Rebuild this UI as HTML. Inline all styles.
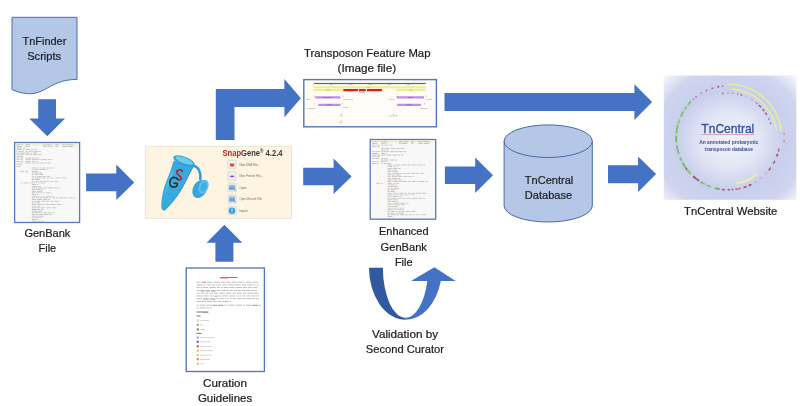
<!DOCTYPE html>
<html><head><meta charset="utf-8"><title>TnCentral workflow</title>
<style>html,body{margin:0;padding:0;background:#fff;width:800px;height:406px;overflow:hidden;font-family:"Liberation Sans",sans-serif}
text{font-family:"Liberation Sans",sans-serif}</style></head>
<body>
<svg width="800" height="406" viewBox="0 0 800 406" style="position:absolute;left:0;top:0;filter:blur(0.3px)" font-family="Liberation Sans, sans-serif">
<rect width="800" height="406" fill="#ffffff"/>
<path d="M12,17.3 L77,17.3 L77,79.4 C44.5,79.4 44.5,103.1 12,89.6 Z" fill="#b4c7e7" stroke="#4a6eb0" stroke-width="1"/>
<text x="44.4" y="45" font-size="11" fill="#1e1e1e" stroke="#1e1e1e" stroke-width="0.22" font-weight="normal" text-anchor="middle" textLength="43.8" lengthAdjust="spacingAndGlyphs">TnFinder</text>
<text x="44.2" y="60" font-size="11" fill="#1e1e1e" stroke="#1e1e1e" stroke-width="0.22" font-weight="normal" text-anchor="middle" textLength="34" lengthAdjust="spacingAndGlyphs">Scripts</text>
<polygon points="38.2,99.3 56,99.3 56,118.4 65,118.4 47.3,136.3 29.3,118.4 38.2,118.4" fill="#4472c4"/>
<rect x="14.6" y="142.5" width="65" height="80" fill="#f8f8f8" stroke="#5a79b8" stroke-width="1.3"/>
<g><rect x="15.8" y="143.79999999999998" width="62.7" height="2.2" fill="#f6f0d0"/>
<rect x="16.57" y="144.40" width="3.65" height="0.72" fill="#b6b6b6"/>
<rect x="21.38" y="144.40" width="1.47" height="0.72" fill="#b6b6b6"/>
<rect x="25.49" y="144.40" width="4.47" height="0.72" fill="#b6b6b6"/>
<rect x="43.33" y="144.40" width="2.83" height="0.72" fill="#b6b6b6"/>
<rect x="46.91" y="144.40" width="3.30" height="0.72" fill="#b6b6b6"/>
<rect x="51.43" y="144.40" width="0.82" height="0.72" fill="#b6b6b6"/>
<rect x="55.43" y="144.40" width="3.19" height="0.72" fill="#b6b6b6"/>
<rect x="62.44" y="144.40" width="2.35" height="0.72" fill="#b6b6b6"/>
<rect x="65.94" y="144.40" width="3.74" height="0.72" fill="#b6b6b6"/>
<rect x="70.36" y="144.40" width="2.56" height="0.72" fill="#b6b6b6"/>
<rect x="16.57" y="146.06" width="5.24" height="0.72" fill="#acacac"/>
<rect x="25.49" y="146.06" width="2.13" height="0.72" fill="#acacac"/>
<rect x="28.52" y="146.06" width="1.32" height="0.72" fill="#acacac"/>
<rect x="43.33" y="146.06" width="3.08" height="0.72" fill="#acacac"/>
<rect x="47.36" y="146.06" width="2.20" height="0.72" fill="#acacac"/>
<rect x="50.32" y="146.06" width="1.92" height="0.72" fill="#acacac"/>
<rect x="55.43" y="146.06" width="2.45" height="0.72" fill="#acacac"/>
<rect x="62.44" y="146.06" width="4.80" height="0.72" fill="#acacac"/>
<rect x="68.23" y="146.06" width="3.96" height="0.72" fill="#acacac"/>
<rect x="72.92" y="146.06" width="0.98" height="0.72" fill="#acacac"/>
<rect x="16.57" y="147.72" width="5.38" height="0.72" fill="#b2b2b2"/>
<rect x="22.91" y="147.72" width="2.18" height="0.72" fill="#b2b2b2"/>
<rect x="16.57" y="149.38" width="4.99" height="0.72" fill="#b0b0b0"/>
<rect x="22.76" y="149.38" width="1.15" height="0.72" fill="#b0b0b0"/>
<rect x="25.49" y="149.38" width="4.63" height="0.72" fill="#b0b0b0"/>
<rect x="31.01" y="149.38" width="1.94" height="0.72" fill="#b0b0b0"/>
<rect x="33.94" y="149.38" width="2.70" height="0.72" fill="#b0b0b0"/>
<rect x="16.57" y="151.04" width="1.66" height="0.72" fill="#bababa"/>
<rect x="18.95" y="151.04" width="4.81" height="0.72" fill="#bababa"/>
<rect x="25.49" y="151.04" width="2.53" height="0.72" fill="#bababa"/>
<rect x="29.21" y="151.04" width="3.84" height="0.72" fill="#bababa"/>
<rect x="34.06" y="151.04" width="3.98" height="0.72" fill="#bababa"/>
<rect x="38.76" y="151.04" width="2.18" height="0.72" fill="#bababa"/>
<rect x="16.57" y="152.70" width="2.20" height="0.72" fill="#b0b0b0"/>
<rect x="19.73" y="152.70" width="5.23" height="0.72" fill="#b0b0b0"/>
<rect x="25.49" y="152.70" width="3.56" height="0.72" fill="#b0b0b0"/>
<rect x="30.32" y="152.70" width="1.22" height="0.72" fill="#b0b0b0"/>
<rect x="32.69" y="152.70" width="4.54" height="0.72" fill="#b0b0b0"/>
<rect x="16.57" y="154.36" width="3.03" height="0.72" fill="#b6b6b6"/>
<rect x="20.25" y="154.36" width="3.57" height="0.72" fill="#b6b6b6"/>
<rect x="25.49" y="154.36" width="3.29" height="0.72" fill="#b6b6b6"/>
<rect x="29.63" y="154.36" width="2.69" height="0.72" fill="#b6b6b6"/>
<rect x="33.29" y="154.36" width="3.88" height="0.72" fill="#b6b6b6"/>
<rect x="38.20" y="154.36" width="3.17" height="0.72" fill="#b6b6b6"/>
<rect x="16.57" y="156.02" width="1.98" height="0.72" fill="#b0b0b0"/>
<rect x="19.22" y="156.02" width="3.57" height="0.72" fill="#b0b0b0"/>
<rect x="16.57" y="157.68" width="1.56" height="0.72" fill="#acacac"/>
<rect x="18.74" y="157.68" width="1.26" height="0.72" fill="#acacac"/>
<rect x="21.14" y="157.68" width="2.27" height="0.72" fill="#acacac"/>
<rect x="25.49" y="157.68" width="1.50" height="0.72" fill="#acacac"/>
<rect x="27.70" y="157.68" width="3.47" height="0.72" fill="#acacac"/>
<rect x="31.89" y="157.68" width="2.37" height="0.72" fill="#acacac"/>
<rect x="35.36" y="157.68" width="3.16" height="0.72" fill="#acacac"/>
<rect x="16.57" y="159.34" width="2.68" height="0.72" fill="#c2b6a2"/>
<rect x="20.41" y="159.34" width="2.31" height="0.72" fill="#c2b6a2"/>
<rect x="25.49" y="159.34" width="5.35" height="0.72" fill="#c2b6a2"/>
<rect x="31.75" y="159.34" width="5.39" height="0.72" fill="#c2b6a2"/>
<rect x="37.90" y="159.34" width="2.91" height="0.72" fill="#c2b6a2"/>
<rect x="41.43" y="159.34" width="5.33" height="0.72" fill="#c2b6a2"/>
<rect x="47.67" y="159.34" width="3.38" height="0.72" fill="#c2b6a2"/>
<rect x="51.95" y="159.34" width="1.05" height="0.72" fill="#c2b6a2"/>
<rect x="16.57" y="161.00" width="2.90" height="0.72" fill="#c2b6a2"/>
<rect x="20.48" y="161.00" width="2.58" height="0.72" fill="#c2b6a2"/>
<rect x="25.49" y="161.00" width="5.36" height="0.72" fill="#c2b6a2"/>
<rect x="32.07" y="161.00" width="2.52" height="0.72" fill="#c2b6a2"/>
<rect x="35.79" y="161.00" width="2.10" height="0.72" fill="#c2b6a2"/>
<rect x="16.57" y="162.66" width="1.24" height="0.72" fill="#b6b6b6"/>
<rect x="19.03" y="162.66" width="1.36" height="0.72" fill="#b6b6b6"/>
<rect x="21.56" y="162.66" width="1.07" height="0.72" fill="#b6b6b6"/>
<rect x="25.49" y="162.66" width="5.39" height="0.72" fill="#b6b6b6"/>
<rect x="31.97" y="162.66" width="3.39" height="0.72" fill="#b6b6b6"/>
<rect x="36.22" y="162.66" width="2.69" height="0.72" fill="#b6b6b6"/>
<rect x="39.66" y="162.66" width="4.10" height="0.72" fill="#b6b6b6"/>
<rect x="44.66" y="162.66" width="2.03" height="0.72" fill="#b6b6b6"/>
<rect x="47.37" y="162.66" width="3.20" height="0.72" fill="#b6b6b6"/>
<rect x="16.57" y="164.32" width="2.93" height="0.72" fill="#c2b6a2"/>
<rect x="20.30" y="164.32" width="1.87" height="0.72" fill="#c2b6a2"/>
<rect x="16.57" y="165.98" width="4.10" height="0.72" fill="#b6b6b6"/>
<rect x="31.86" y="167.64" width="4.50" height="0.72" fill="#bababa"/>
<rect x="37.34" y="167.64" width="1.48" height="0.72" fill="#bababa"/>
<rect x="39.45" y="167.64" width="1.77" height="0.72" fill="#bababa"/>
<rect x="41.93" y="167.64" width="3.51" height="0.72" fill="#bababa"/>
<rect x="46.24" y="167.64" width="2.63" height="0.72" fill="#bababa"/>
<rect x="49.82" y="167.64" width="2.30" height="0.72" fill="#bababa"/>
<rect x="52.95" y="167.64" width="1.09" height="0.72" fill="#bababa"/>
<rect x="31.86" y="169.30" width="1.37" height="0.72" fill="#c2b6a2"/>
<rect x="33.88" y="169.30" width="4.92" height="0.72" fill="#c2b6a2"/>
<rect x="39.96" y="169.30" width="4.76" height="0.72" fill="#c2b6a2"/>
<rect x="45.56" y="169.30" width="1.91" height="0.72" fill="#c2b6a2"/>
<rect x="20.40" y="170.96" width="3.63" height="0.72" fill="#b2b2b2"/>
<rect x="25.30" y="170.96" width="2.77" height="0.72" fill="#b2b2b2"/>
<rect x="31.86" y="170.96" width="5.06" height="0.72" fill="#b2b2b2"/>
<rect x="31.86" y="172.62" width="1.59" height="0.72" fill="#acacac"/>
<rect x="34.14" y="172.62" width="5.01" height="0.72" fill="#acacac"/>
<rect x="39.77" y="172.62" width="2.23" height="0.72" fill="#acacac"/>
<rect x="31.86" y="174.28" width="1.88" height="0.72" fill="#b2b2b2"/>
<rect x="34.94" y="174.28" width="3.07" height="0.72" fill="#b2b2b2"/>
<rect x="39.28" y="174.28" width="3.75" height="0.72" fill="#b2b2b2"/>
<rect x="31.86" y="175.94" width="2.09" height="0.72" fill="#b4b4b4"/>
<rect x="34.78" y="175.94" width="1.32" height="0.72" fill="#b4b4b4"/>
<rect x="37.24" y="175.94" width="5.18" height="0.72" fill="#b4b4b4"/>
<rect x="43.53" y="175.94" width="2.58" height="0.72" fill="#b4b4b4"/>
<rect x="46.98" y="175.94" width="2.91" height="0.72" fill="#b4b4b4"/>
<rect x="31.86" y="177.60" width="2.13" height="0.72" fill="#bababa"/>
<rect x="35.02" y="177.60" width="5.41" height="0.72" fill="#bababa"/>
<rect x="41.41" y="177.60" width="4.16" height="0.72" fill="#bababa"/>
<rect x="46.64" y="177.60" width="2.31" height="0.72" fill="#bababa"/>
<rect x="49.93" y="177.60" width="2.52" height="0.72" fill="#bababa"/>
<rect x="53.22" y="177.60" width="1.55" height="0.72" fill="#bababa"/>
<rect x="55.57" y="177.60" width="5.43" height="0.72" fill="#bababa"/>
<rect x="61.91" y="177.60" width="4.00" height="0.72" fill="#bababa"/>
<rect x="31.86" y="179.26" width="2.56" height="0.72" fill="#b0b0b0"/>
<rect x="35.62" y="179.26" width="4.26" height="0.72" fill="#b0b0b0"/>
<rect x="31.86" y="180.92" width="1.60" height="0.72" fill="#bababa"/>
<rect x="34.21" y="180.92" width="4.68" height="0.72" fill="#bababa"/>
<rect x="39.77" y="180.92" width="2.35" height="0.72" fill="#bababa"/>
<rect x="43.33" y="180.92" width="4.34" height="0.72" fill="#bababa"/>
<rect x="48.28" y="180.92" width="1.24" height="0.72" fill="#bababa"/>
<rect x="50.65" y="180.92" width="2.74" height="0.72" fill="#bababa"/>
<rect x="54.32" y="180.92" width="3.90" height="0.72" fill="#bababa"/>
<rect x="20.40" y="182.58" width="1.94" height="0.72" fill="#bababa"/>
<rect x="23.48" y="182.58" width="5.44" height="0.72" fill="#bababa"/>
<rect x="30.09" y="182.58" width="1.51" height="0.72" fill="#bababa"/>
<rect x="31.86" y="182.58" width="2.46" height="0.72" fill="#bababa"/>
<rect x="35.55" y="182.58" width="1.81" height="0.72" fill="#bababa"/>
<rect x="38.60" y="182.58" width="1.34" height="0.72" fill="#bababa"/>
<rect x="40.75" y="182.58" width="4.40" height="0.72" fill="#bababa"/>
<rect x="31.86" y="184.24" width="4.27" height="0.72" fill="#b0b0b0"/>
<rect x="37.20" y="184.24" width="1.16" height="0.72" fill="#b0b0b0"/>
<rect x="31.86" y="185.90" width="4.86" height="0.72" fill="#c2b6a2"/>
<rect x="37.64" y="185.90" width="2.90" height="0.72" fill="#c2b6a2"/>
<rect x="31.86" y="187.56" width="5.40" height="0.72" fill="#b4b4b4"/>
<rect x="37.87" y="187.56" width="4.17" height="0.72" fill="#b4b4b4"/>
<rect x="43.05" y="187.56" width="3.75" height="0.72" fill="#b4b4b4"/>
<rect x="47.50" y="187.56" width="5.43" height="0.72" fill="#b4b4b4"/>
<rect x="53.72" y="187.56" width="3.63" height="0.72" fill="#b4b4b4"/>
<rect x="58.07" y="187.56" width="1.58" height="0.72" fill="#b4b4b4"/>
<rect x="31.86" y="189.22" width="3.08" height="0.72" fill="#b6b6b6"/>
<rect x="36.03" y="189.22" width="4.35" height="0.72" fill="#b6b6b6"/>
<rect x="41.14" y="189.22" width="1.61" height="0.72" fill="#b6b6b6"/>
<rect x="31.86" y="190.88" width="4.33" height="0.72" fill="#b0b0b0"/>
<rect x="37.25" y="190.88" width="5.16" height="0.72" fill="#b0b0b0"/>
<rect x="31.86" y="192.54" width="3.40" height="0.72" fill="#b2b2b2"/>
<rect x="36.42" y="192.54" width="2.08" height="0.72" fill="#b2b2b2"/>
<rect x="39.30" y="192.54" width="2.49" height="0.72" fill="#b2b2b2"/>
<rect x="42.78" y="192.54" width="1.91" height="0.72" fill="#b2b2b2"/>
<rect x="45.78" y="192.54" width="3.20" height="0.72" fill="#b2b2b2"/>
<rect x="49.64" y="192.54" width="1.73" height="0.72" fill="#b2b2b2"/>
<rect x="31.86" y="194.20" width="3.65" height="0.72" fill="#b2b2b2"/>
<rect x="36.64" y="194.20" width="1.42" height="0.72" fill="#b2b2b2"/>
<rect x="31.86" y="195.86" width="5.48" height="0.72" fill="#bababa"/>
<rect x="38.30" y="195.86" width="1.59" height="0.72" fill="#bababa"/>
<rect x="40.67" y="195.86" width="1.63" height="0.72" fill="#bababa"/>
<rect x="43.42" y="195.86" width="1.56" height="0.72" fill="#bababa"/>
<rect x="46.26" y="195.86" width="5.37" height="0.72" fill="#bababa"/>
<rect x="52.66" y="195.86" width="1.53" height="0.72" fill="#bababa"/>
<rect x="31.86" y="197.52" width="2.84" height="0.72" fill="#b2b2b2"/>
<rect x="35.87" y="197.52" width="3.06" height="0.72" fill="#b2b2b2"/>
<rect x="39.64" y="197.52" width="2.60" height="0.72" fill="#b2b2b2"/>
<rect x="42.93" y="197.52" width="5.11" height="0.72" fill="#b2b2b2"/>
<rect x="49.31" y="197.52" width="1.71" height="0.72" fill="#b2b2b2"/>
<rect x="52.05" y="197.52" width="2.96" height="0.72" fill="#b2b2b2"/>
<rect x="55.68" y="197.52" width="2.47" height="0.72" fill="#b2b2b2"/>
<rect x="58.93" y="197.52" width="4.42" height="0.72" fill="#b2b2b2"/>
<rect x="63.95" y="197.52" width="2.02" height="0.72" fill="#b2b2b2"/>
<rect x="66.88" y="197.52" width="1.29" height="0.72" fill="#b2b2b2"/>
<rect x="69.21" y="197.52" width="3.80" height="0.72" fill="#b2b2b2"/>
<rect x="74.20" y="197.52" width="1.34" height="0.72" fill="#b2b2b2"/>
<rect x="31.86" y="199.18" width="4.14" height="0.72" fill="#b0b0b0"/>
<rect x="37.15" y="199.18" width="4.68" height="0.72" fill="#b0b0b0"/>
<rect x="43.11" y="199.18" width="3.55" height="0.72" fill="#b0b0b0"/>
<rect x="47.60" y="199.18" width="2.11" height="0.72" fill="#b0b0b0"/>
<rect x="31.86" y="200.84" width="1.30" height="0.72" fill="#b2b2b2"/>
<rect x="34.16" y="200.84" width="1.26" height="0.72" fill="#b2b2b2"/>
<rect x="36.23" y="200.84" width="4.10" height="0.72" fill="#b2b2b2"/>
<rect x="41.43" y="200.84" width="3.99" height="0.72" fill="#b2b2b2"/>
<rect x="46.08" y="200.84" width="2.81" height="0.72" fill="#b2b2b2"/>
<rect x="50.05" y="200.84" width="3.08" height="0.72" fill="#b2b2b2"/>
<rect x="54.20" y="200.84" width="4.46" height="0.72" fill="#b2b2b2"/>
<rect x="31.86" y="202.50" width="2.92" height="0.72" fill="#b2b2b2"/>
<rect x="35.93" y="202.50" width="3.75" height="0.72" fill="#b2b2b2"/>
<rect x="31.86" y="204.16" width="3.93" height="0.72" fill="#b2b2b2"/>
<rect x="36.90" y="204.16" width="4.38" height="0.72" fill="#b2b2b2"/>
<rect x="42.39" y="204.16" width="2.06" height="0.72" fill="#b2b2b2"/>
<rect x="45.69" y="204.16" width="3.78" height="0.72" fill="#b2b2b2"/>
<rect x="50.43" y="204.16" width="5.23" height="0.72" fill="#b2b2b2"/>
<rect x="56.76" y="204.16" width="4.32" height="0.72" fill="#b2b2b2"/>
<rect x="31.86" y="205.82" width="1.22" height="0.72" fill="#c2b6a2"/>
<rect x="33.95" y="205.82" width="3.03" height="0.72" fill="#c2b6a2"/>
<rect x="37.86" y="205.82" width="2.30" height="0.72" fill="#c2b6a2"/>
<rect x="31.86" y="207.48" width="3.99" height="0.72" fill="#b2b2b2"/>
<rect x="36.89" y="207.48" width="2.95" height="0.72" fill="#b2b2b2"/>
<rect x="40.88" y="207.48" width="3.93" height="0.72" fill="#b2b2b2"/>
<rect x="46.06" y="207.48" width="4.56" height="0.72" fill="#b2b2b2"/>
<rect x="51.82" y="207.48" width="3.84" height="0.72" fill="#b2b2b2"/>
<rect x="31.86" y="209.14" width="4.96" height="0.72" fill="#acacac"/>
<rect x="37.80" y="209.14" width="1.85" height="0.72" fill="#acacac"/>
<rect x="40.84" y="209.14" width="2.43" height="0.72" fill="#acacac"/>
<rect x="31.86" y="210.80" width="1.50" height="0.72" fill="#acacac"/>
<rect x="34.01" y="210.80" width="3.10" height="0.72" fill="#acacac"/>
<rect x="37.83" y="210.80" width="4.25" height="0.72" fill="#acacac"/>
<rect x="31.86" y="212.46" width="2.10" height="0.72" fill="#b2b2b2"/>
<rect x="34.71" y="212.46" width="5.01" height="0.72" fill="#b2b2b2"/>
<rect x="40.50" y="212.46" width="1.52" height="0.72" fill="#b2b2b2"/>
<rect x="43.21" y="212.46" width="3.45" height="0.72" fill="#b2b2b2"/>
<rect x="47.51" y="212.46" width="3.40" height="0.72" fill="#b2b2b2"/>
<rect x="52.03" y="212.46" width="1.92" height="0.72" fill="#b2b2b2"/>
<rect x="31.86" y="214.12" width="2.92" height="0.72" fill="#b4b4b4"/>
<rect x="35.72" y="214.12" width="2.32" height="0.72" fill="#b4b4b4"/>
<rect x="39.06" y="214.12" width="4.28" height="0.72" fill="#b4b4b4"/>
<rect x="44.12" y="214.12" width="3.82" height="0.72" fill="#b4b4b4"/>
<rect x="48.72" y="214.12" width="3.16" height="0.72" fill="#b4b4b4"/>
<rect x="31.86" y="215.78" width="4.58" height="0.72" fill="#b2b2b2"/>
<rect x="37.17" y="215.78" width="3.89" height="0.72" fill="#b2b2b2"/>
<rect x="41.78" y="215.78" width="1.97" height="0.72" fill="#b2b2b2"/>
<rect x="31.86" y="217.44" width="1.80" height="0.72" fill="#b6b6b6"/>
<rect x="34.35" y="217.44" width="4.28" height="0.72" fill="#b6b6b6"/>
<rect x="39.49" y="217.44" width="2.17" height="0.72" fill="#b6b6b6"/>
<rect x="31.86" y="219.10" width="2.91" height="0.72" fill="#b0b0b0"/>
<rect x="35.71" y="219.10" width="1.63" height="0.72" fill="#b0b0b0"/>
<rect x="31.86" y="220.76" width="4.14" height="0.72" fill="#acacac"/>
<rect x="36.95" y="220.76" width="3.47" height="0.72" fill="#acacac"/>
<rect x="41.53" y="220.76" width="2.14" height="0.72" fill="#acacac"/></g>
<text x="47.4" y="236.5" font-size="11" fill="#1e1e1e" stroke="#1e1e1e" stroke-width="0.22" font-weight="normal" text-anchor="middle" textLength="46" lengthAdjust="spacingAndGlyphs">GenBank</text>
<text x="47.4" y="252.2" font-size="11" fill="#1e1e1e" stroke="#1e1e1e" stroke-width="0.22" font-weight="normal" text-anchor="middle" textLength="17.6" lengthAdjust="spacingAndGlyphs">File</text>
<polygon points="86.1,173.5 116.3,173.5 116.3,164.5 134.2,182.5 116.3,200.1 116.3,191.3 86.1,191.3" fill="#4472c4"/>
<rect x="145.5" y="146.3" width="146" height="72" fill="#fdf5e2" stroke="#e6e0d0" stroke-width="0.8"/>

<g>
<path d="M192.5,165.5 C196,166 199,169 200,173 C200.8,176 200.5,178 200.2,180" fill="none" stroke="#2d9fd8" stroke-width="2.6"/>
<ellipse cx="199.8" cy="189" rx="6.8" ry="9.6" transform="rotate(28 199.8 189)" fill="#35a6dd"/>
<ellipse cx="203.6" cy="186.8" rx="4.6" ry="7.3" transform="rotate(22 203.6 186.8)" fill="#5cc2ee"/>
<ellipse cx="203.8" cy="186.8" rx="3" ry="5.2" transform="rotate(22 203.8 186.8)" fill="#3fb0e4"/>
<path d="M193.8,165.8 C189.5,173 186.5,180 183.5,185.5 C179.5,193 174,201 167.6,207.2 C165.5,209.5 164.3,210.3 163.3,210.2 C161.6,210 161.2,207.5 161.3,204 C161.5,196 163.5,188 166.9,179.8 C169,175 171.5,168 173.6,160.5 Z" fill="#37aae0"/>
<path d="M193.8,165.8 C189.5,173 186.5,180 183.5,185.5 C179.5,193 174,201 167.6,207.2 C165.5,209.5 164.3,210.3 163.3,210.2" fill="none" stroke="#1e86bf" stroke-width="1" opacity="0.8"/>
<path d="M172,170 C169,178 165.5,188 164,198 C167,190 170,181 174,172 Z" fill="#74d2f4" opacity="0.45"/>
<ellipse cx="184" cy="160.8" rx="11.4" ry="4.2" transform="rotate(21 184 160.8)" fill="#2a9bd5"/>
<ellipse cx="184.2" cy="160.5" rx="9.6" ry="2.9" transform="rotate(21 184.2 160.5)" fill="#6fcaf0"/>
<path d="M182.4,171.3 C181.5,169.5 178.5,169.2 177.2,171 C176,172.8 177.8,174.6 179.4,175.8 C181,177 181.8,178.4 180.5,179.6 C179.5,180.3 178.3,179.8 177.6,179.2" fill="none" stroke="#b51a26" stroke-width="1.6" stroke-linecap="round"/>
<path d="M177.6,179.3 C176.5,177.4 173.8,176.8 171.8,178.2 C169.8,179.6 169.4,183.2 170.2,185 C171,187 173.6,187.6 175.4,186.8 C177.2,186 177.6,184.4 177,183.4 L174,183.2" fill="none" stroke="#2a2a2a" stroke-width="1.6" stroke-linecap="round" stroke-linejoin="round"/>
</g>
<text x="222.5" y="155.8" font-size="9.2" font-weight="bold" textLength="60" lengthAdjust="spacingAndGlyphs"><tspan fill="#b8232b">Snap</tspan><tspan fill="#3c3c3c">Gene</tspan><tspan fill="#3c3c3c" font-size="5.5" dy="-2.4">®</tspan><tspan fill="#3c3c3c" dy="2.4"> 4.2.4</tspan></text>
<rect x="227.8" y="160.1" width="8.6" height="8.8" rx="1.2" fill="#e9e9e9" stroke="#d4d4d4" stroke-width="0.5"/>
<rect x="229.6" y="161.1" width="5" height="6.8" fill="#fafafa"/>
<rect x="230" y="162.9" width="4.2" height="1.2" fill="#f0b040"/>
<path d="M230,164.0 L234.2,164.0 L234.2,165.5 C234.2,167.1 230,167.1 230,165.5 Z" fill="#d4502c"/>
<text x="239.4" y="165.5" font-size="2.9" fill="#707070">New DNA File...</text>
<rect x="227.8" y="171.6" width="8.6" height="8.8" rx="1.2" fill="#e9e9e9" stroke="#d4d4d4" stroke-width="0.5"/>
<rect x="229.6" y="172.6" width="5" height="6.8" fill="#eef5ee"/>
<ellipse cx="232.1" cy="176.3" rx="2.3" ry="0.9" fill="#8a3fd0"/>
<text x="239.4" y="177" font-size="2.9" fill="#707070">New Protein File...</text>
<rect x="227.8" y="183.2" width="8.6" height="8.8" rx="1.2" fill="#e9e9e9" stroke="#d4d4d4" stroke-width="0.5"/>
<rect x="229.2" y="185.0" width="5.8" height="4.8" rx="0.5" fill="#8dbbe6"/>
<rect x="229.2" y="186.79999999999998" width="5.8" height="3" rx="0.5" fill="#6fa6dc"/>
<path d="M234.6,189.79999999999998 l1.2,0 l-0.6,1 z" fill="#333"/>
<text x="239.4" y="188.6" font-size="2.9" fill="#707070">Open</text>
<rect x="227.8" y="194.79999999999998" width="8.6" height="8.8" rx="1.2" fill="#e9e9e9" stroke="#d4d4d4" stroke-width="0.5"/>
<rect x="229.2" y="196.6" width="5.8" height="4.8" rx="0.5" fill="#8dbbe6"/>
<rect x="229.2" y="198.39999999999998" width="5.8" height="3" rx="0.5" fill="#6fa6dc"/>
<path d="M234.6,201.39999999999998 l1.2,0 l-0.6,1 z" fill="#333"/>
<text x="239.4" y="200.2" font-size="2.9" fill="#707070">Open Recent File</text>
<rect x="227.8" y="206.29999999999998" width="8.6" height="8.8" rx="1.2" fill="#e9e9e9" stroke="#d4d4d4" stroke-width="0.5"/>
<circle cx="232" cy="210.7" r="3.2" fill="#2ea0dc"/><rect x="231.55" y="208.6" width="0.9" height="2.8" fill="#fff"/><rect x="231.55" y="211.79999999999998" width="0.9" height="0.8" fill="#fff"/>
<text x="239.4" y="211.7" font-size="2.9" fill="#707070">Import</text>
<polygon points="215.8,140 215.8,89.1 284.4,89.1 284.4,78.9 300.9,98.2 284.4,117.3 284.4,107.1 234.5,107.1 234.5,140" fill="#4472c4"/>
<text x="367.2" y="57" font-size="11" fill="#1e1e1e" stroke="#1e1e1e" stroke-width="0.22" font-weight="normal" text-anchor="middle" textLength="126.5" lengthAdjust="spacingAndGlyphs">Transposon Feature Map</text>
<text x="366.8" y="72.4" font-size="11" fill="#1e1e1e" stroke="#1e1e1e" stroke-width="0.22" font-weight="normal" text-anchor="middle" textLength="58.5" lengthAdjust="spacingAndGlyphs">(Image file)</text>
<rect x="303.8" y="79.6" width="132.6" height="47.2" fill="#fefcf4" stroke="#5476b6" stroke-width="1.4"/>
<rect x="313.7" y="82.9" width="112" height="1.2" fill="#666"/>
<rect x="329.5" y="84.4" width="3.5" height="0.7" fill="#aaa"/>
<rect x="349.0" y="84.4" width="3.5" height="0.7" fill="#aaa"/>
<rect x="368.5" y="84.4" width="3.5" height="0.7" fill="#aaa"/>
<rect x="387.5" y="84.4" width="3.5" height="0.7" fill="#aaa"/>
<rect x="406.5" y="84.4" width="3.5" height="0.7" fill="#aaa"/>
<rect x="313.7" y="86.2" width="112" height="2.2" fill="#eeee8e"/>
<rect x="313.7" y="89" width="29" height="2.2" fill="#eeee8e"/>
<rect x="396.1" y="89" width="29.6" height="2.2" fill="#eeee8e"/>
<rect x="367" y="87" width="3" height="0.6" fill="#aaa"/><rect x="326" y="89.8" width="3.5" height="0.6" fill="#aaa"/><rect x="409" y="89.8" width="3.5" height="0.6" fill="#aaa"/>
<polygon points="343.3,88.9 357.6,88.9 358.3,90.05 357.6,91.2 343.3,91.2" fill="#e41818"/>
<polygon points="358.9,88.9 365.4,88.9 366.1,90.05 365.4,91.2 358.9,91.2" fill="#e41818"/>
<polygon points="367,88.9 381.6,88.9 382.3,90.05 381.6,91.2 367,91.2" fill="#e41818"/>
<rect x="359" y="92.2" width="6" height="0.6" fill="#999"/>
<polygon points="315.2,96.3 339.8,96.3 341,97.4 339.8,98.5 315.2,98.5" fill="#c08cf0"/>
<polygon points="318.3,103.7 339.8,103.7 341,104.8 339.8,105.9 318.3,105.9" fill="#c08cf0"/>
<polygon points="397.5,96.3 424,96.3 424,98.5 397.5,98.5 396.3,97.4" fill="#c08cf0"/>
<polygon points="397.8,103.7 421,103.7 421,105.9 397.8,105.9 396.6,104.8" fill="#c08cf0"/>
<rect x="322" y="97.1" width="10" height="0.6" fill="#8a5ab0"/>
<rect x="327" y="104.5" width="5" height="0.6" fill="#8a5ab0"/>
<rect x="408" y="97.1" width="5" height="0.6" fill="#8a5ab0"/>
<rect x="406" y="104.5" width="6" height="0.6" fill="#8a5ab0"/>
<rect x="306.5" y="99.4" width="4" height="0.6" fill="#b0b0b0"/>
<rect x="343" y="99.4" width="10" height="0.6" fill="#b0b0b0"/>
<rect x="388.5" y="99.4" width="6" height="0.6" fill="#b0b0b0"/>
<rect x="426" y="99.4" width="6" height="0.6" fill="#b0b0b0"/>
<rect x="307.5" y="108.2" width="8" height="0.6" fill="#b0b0b0"/>
<rect x="343" y="107.4" width="5" height="0.6" fill="#b0b0b0"/>
<rect x="419.5" y="108.2" width="8" height="0.6" fill="#b0b0b0"/>
<rect x="339.5" y="115.6" width="3" height="0.6" fill="#b0b0b0"/>
<rect x="388.5" y="115.6" width="9" height="0.6" fill="#b0b0b0"/>
<rect x="339" y="122.5" width="3" height="0.6" fill="#b0b0b0"/>
<rect x="313.8" y="95.5" width="0.5" height="1.6" fill="#999"/>
<rect x="342.6" y="95.5" width="0.5" height="1.6" fill="#999"/>
<rect x="396" y="95.5" width="0.5" height="1.6" fill="#999"/>
<rect x="425.8" y="95.5" width="0.5" height="1.6" fill="#999"/>
<rect x="313.8" y="103" width="0.5" height="1.6" fill="#999"/>
<rect x="342.6" y="103" width="0.5" height="1.6" fill="#999"/>
<rect x="424" y="103" width="0.5" height="1.6" fill="#999"/>
<rect x="341" y="113.5" width="0.5" height="1.6" fill="#999"/>
<rect x="393" y="113.5" width="0.5" height="1.6" fill="#999"/>
<rect x="341" y="120.5" width="0.5" height="1.6" fill="#999"/>
<polygon points="303.2,167.8 333.6,167.8 333.6,158.4 351.6,176.4 333.6,194 333.6,185.3 303.2,185.3" fill="#4472c4"/>
<rect x="370.2" y="139.5" width="65.5" height="79.7" fill="#f8f8f8" stroke="#5a79b8" stroke-width="1.3"/>
<g><rect x="371.4" y="140.79999999999998" width="63.10000000000002" height="2.2" fill="#f6f0d0"/>
<rect x="372.18" y="141.40" width="1.59" height="0.72" fill="#acacac"/>
<rect x="374.63" y="141.40" width="1.93" height="0.72" fill="#acacac"/>
<rect x="377.72" y="141.40" width="0.87" height="0.72" fill="#acacac"/>
<rect x="381.16" y="141.40" width="2.11" height="0.72" fill="#acacac"/>
<rect x="383.89" y="141.40" width="3.03" height="0.72" fill="#acacac"/>
<rect x="399.10" y="141.40" width="3.95" height="0.72" fill="#acacac"/>
<rect x="404.21" y="141.40" width="3.87" height="0.72" fill="#acacac"/>
<rect x="411.28" y="141.40" width="2.80" height="0.72" fill="#acacac"/>
<rect x="418.33" y="141.40" width="3.36" height="0.72" fill="#acacac"/>
<rect x="422.92" y="141.40" width="4.95" height="0.72" fill="#acacac"/>
<rect x="428.72" y="141.40" width="1.15" height="0.72" fill="#acacac"/>
<rect x="372.18" y="143.06" width="5.03" height="0.72" fill="#b2b2b2"/>
<rect x="381.16" y="143.06" width="3.61" height="0.72" fill="#b2b2b2"/>
<rect x="385.53" y="143.06" width="1.30" height="0.72" fill="#b2b2b2"/>
<rect x="399.10" y="143.06" width="1.79" height="0.72" fill="#b2b2b2"/>
<rect x="401.85" y="143.06" width="5.49" height="0.72" fill="#b2b2b2"/>
<rect x="411.28" y="143.06" width="1.98" height="0.72" fill="#b2b2b2"/>
<rect x="418.33" y="143.06" width="4.63" height="0.72" fill="#b2b2b2"/>
<rect x="424.07" y="143.06" width="5.10" height="0.72" fill="#b2b2b2"/>
<rect x="372.18" y="144.72" width="3.12" height="0.72" fill="#bababa"/>
<rect x="376.57" y="144.72" width="2.92" height="0.72" fill="#bababa"/>
<rect x="381.16" y="144.72" width="2.40" height="0.72" fill="#bababa"/>
<rect x="384.50" y="144.72" width="3.42" height="0.72" fill="#bababa"/>
<rect x="389.08" y="144.72" width="3.45" height="0.72" fill="#bababa"/>
<rect x="372.18" y="146.38" width="3.60" height="0.72" fill="#c2b6a2"/>
<rect x="376.70" y="146.38" width="3.40" height="0.72" fill="#c2b6a2"/>
<rect x="381.16" y="148.04" width="3.26" height="0.72" fill="#b6b6b6"/>
<rect x="385.23" y="148.04" width="4.64" height="0.72" fill="#b6b6b6"/>
<rect x="391.05" y="148.04" width="3.62" height="0.72" fill="#b6b6b6"/>
<rect x="395.62" y="148.04" width="3.85" height="0.72" fill="#b6b6b6"/>
<rect x="400.36" y="148.04" width="3.91" height="0.72" fill="#b6b6b6"/>
<rect x="381.16" y="149.70" width="4.73" height="0.72" fill="#bababa"/>
<rect x="386.99" y="149.70" width="1.62" height="0.72" fill="#bababa"/>
<rect x="372.18" y="151.36" width="2.37" height="0.72" fill="#b2b2b2"/>
<rect x="375.31" y="151.36" width="4.51" height="0.72" fill="#b2b2b2"/>
<rect x="381.16" y="151.36" width="2.25" height="0.72" fill="#b2b2b2"/>
<rect x="384.16" y="151.36" width="4.99" height="0.72" fill="#b2b2b2"/>
<rect x="390.04" y="151.36" width="4.28" height="0.72" fill="#b2b2b2"/>
<rect x="394.94" y="151.36" width="2.76" height="0.72" fill="#b2b2b2"/>
<rect x="398.42" y="151.36" width="4.09" height="0.72" fill="#b2b2b2"/>
<rect x="403.17" y="151.36" width="2.91" height="0.72" fill="#b2b2b2"/>
<rect x="372.18" y="153.02" width="5.22" height="0.72" fill="#acacac"/>
<rect x="381.16" y="153.02" width="3.73" height="0.72" fill="#acacac"/>
<rect x="386.05" y="153.02" width="0.92" height="0.72" fill="#acacac"/>
<rect x="372.18" y="154.68" width="4.39" height="0.72" fill="#acacac"/>
<rect x="377.25" y="154.68" width="2.42" height="0.72" fill="#acacac"/>
<rect x="381.16" y="154.68" width="4.38" height="0.72" fill="#acacac"/>
<rect x="386.77" y="154.68" width="4.45" height="0.72" fill="#acacac"/>
<rect x="392.42" y="154.68" width="4.23" height="0.72" fill="#acacac"/>
<rect x="397.59" y="154.68" width="2.17" height="0.72" fill="#acacac"/>
<rect x="400.82" y="154.68" width="2.56" height="0.72" fill="#acacac"/>
<rect x="372.18" y="156.34" width="3.43" height="0.72" fill="#c2b6a2"/>
<rect x="376.76" y="156.34" width="3.29" height="0.72" fill="#c2b6a2"/>
<rect x="372.18" y="158.00" width="3.00" height="0.72" fill="#bababa"/>
<rect x="375.80" y="158.00" width="3.60" height="0.72" fill="#bababa"/>
<rect x="381.16" y="158.00" width="1.89" height="0.72" fill="#bababa"/>
<rect x="383.72" y="158.00" width="3.93" height="0.72" fill="#bababa"/>
<rect x="381.16" y="159.66" width="2.28" height="0.72" fill="#acacac"/>
<rect x="384.45" y="159.66" width="3.88" height="0.72" fill="#acacac"/>
<rect x="389.49" y="159.66" width="4.25" height="0.72" fill="#acacac"/>
<rect x="394.52" y="159.66" width="2.38" height="0.72" fill="#acacac"/>
<rect x="372.18" y="161.32" width="1.89" height="0.72" fill="#acacac"/>
<rect x="375.03" y="161.32" width="1.58" height="0.72" fill="#acacac"/>
<rect x="377.28" y="161.32" width="1.29" height="0.72" fill="#acacac"/>
<rect x="381.16" y="161.32" width="4.08" height="0.72" fill="#acacac"/>
<rect x="386.15" y="161.32" width="1.32" height="0.72" fill="#acacac"/>
<rect x="372.18" y="162.98" width="3.40" height="0.72" fill="#b0b0b0"/>
<rect x="376.59" y="162.98" width="1.42" height="0.72" fill="#b0b0b0"/>
<rect x="381.16" y="162.98" width="1.60" height="0.72" fill="#b0b0b0"/>
<rect x="383.92" y="162.98" width="2.77" height="0.72" fill="#b0b0b0"/>
<rect x="387.66" y="162.98" width="3.33" height="0.72" fill="#b0b0b0"/>
<rect x="387.57" y="164.64" width="4.96" height="0.72" fill="#b4b4b4"/>
<rect x="393.41" y="164.64" width="1.65" height="0.72" fill="#b4b4b4"/>
<rect x="395.80" y="164.64" width="4.53" height="0.72" fill="#b4b4b4"/>
<rect x="401.52" y="164.64" width="4.69" height="0.72" fill="#b4b4b4"/>
<rect x="406.85" y="164.64" width="3.94" height="0.72" fill="#b4b4b4"/>
<rect x="411.72" y="164.64" width="5.03" height="0.72" fill="#b4b4b4"/>
<rect x="417.77" y="164.64" width="1.22" height="0.72" fill="#b4b4b4"/>
<rect x="419.61" y="164.64" width="2.52" height="0.72" fill="#b4b4b4"/>
<rect x="423.23" y="164.64" width="1.91" height="0.72" fill="#b4b4b4"/>
<rect x="387.57" y="166.30" width="4.44" height="0.72" fill="#b2b2b2"/>
<rect x="392.88" y="166.30" width="1.72" height="0.72" fill="#b2b2b2"/>
<rect x="395.29" y="166.30" width="1.55" height="0.72" fill="#b2b2b2"/>
<rect x="387.57" y="167.96" width="4.03" height="0.72" fill="#b2b2b2"/>
<rect x="392.74" y="167.96" width="4.31" height="0.72" fill="#b2b2b2"/>
<rect x="398.00" y="167.96" width="2.74" height="0.72" fill="#b2b2b2"/>
<rect x="387.57" y="169.62" width="5.31" height="0.72" fill="#bababa"/>
<rect x="394.03" y="169.62" width="2.95" height="0.72" fill="#bababa"/>
<rect x="387.57" y="171.28" width="3.56" height="0.72" fill="#b4b4b4"/>
<rect x="392.21" y="171.28" width="4.21" height="0.72" fill="#b4b4b4"/>
<rect x="397.08" y="171.28" width="0.97" height="0.72" fill="#b4b4b4"/>
<rect x="387.57" y="172.94" width="2.99" height="0.72" fill="#b2b2b2"/>
<rect x="391.20" y="172.94" width="1.57" height="0.72" fill="#b2b2b2"/>
<rect x="394.00" y="172.94" width="5.45" height="0.72" fill="#b2b2b2"/>
<rect x="400.51" y="172.94" width="1.75" height="0.72" fill="#b2b2b2"/>
<rect x="403.07" y="172.94" width="2.20" height="0.72" fill="#b2b2b2"/>
<rect x="406.33" y="172.94" width="4.13" height="0.72" fill="#b2b2b2"/>
<rect x="411.37" y="172.94" width="3.45" height="0.72" fill="#b2b2b2"/>
<rect x="415.50" y="172.94" width="3.53" height="0.72" fill="#b2b2b2"/>
<rect x="420.29" y="172.94" width="3.30" height="0.72" fill="#b2b2b2"/>
<rect x="387.57" y="174.60" width="3.18" height="0.72" fill="#b0b0b0"/>
<rect x="391.84" y="174.60" width="2.94" height="0.72" fill="#b0b0b0"/>
<rect x="396.07" y="174.60" width="4.57" height="0.72" fill="#b0b0b0"/>
<rect x="387.57" y="176.26" width="2.85" height="0.72" fill="#b6b6b6"/>
<rect x="391.53" y="176.26" width="2.89" height="0.72" fill="#b6b6b6"/>
<rect x="395.06" y="176.26" width="2.38" height="0.72" fill="#b6b6b6"/>
<rect x="398.21" y="176.26" width="4.34" height="0.72" fill="#b6b6b6"/>
<rect x="403.44" y="176.26" width="3.99" height="0.72" fill="#b6b6b6"/>
<rect x="408.28" y="176.26" width="3.55" height="0.72" fill="#b6b6b6"/>
<rect x="412.94" y="176.26" width="1.19" height="0.72" fill="#b6b6b6"/>
<rect x="387.57" y="177.92" width="2.84" height="0.72" fill="#b0b0b0"/>
<rect x="391.63" y="177.92" width="5.13" height="0.72" fill="#b0b0b0"/>
<rect x="397.58" y="177.92" width="2.44" height="0.72" fill="#b0b0b0"/>
<rect x="387.57" y="179.58" width="5.26" height="0.72" fill="#c2b6a2"/>
<rect x="393.93" y="179.58" width="3.81" height="0.72" fill="#c2b6a2"/>
<rect x="398.97" y="179.58" width="2.96" height="0.72" fill="#c2b6a2"/>
<rect x="387.57" y="181.24" width="3.31" height="0.72" fill="#b0b0b0"/>
<rect x="391.90" y="181.24" width="1.24" height="0.72" fill="#b0b0b0"/>
<rect x="394.21" y="181.24" width="3.27" height="0.72" fill="#b0b0b0"/>
<rect x="398.44" y="181.24" width="1.95" height="0.72" fill="#b0b0b0"/>
<rect x="401.49" y="181.24" width="5.38" height="0.72" fill="#b0b0b0"/>
<rect x="408.00" y="181.24" width="2.71" height="0.72" fill="#b0b0b0"/>
<rect x="411.94" y="181.24" width="3.49" height="0.72" fill="#b0b0b0"/>
<rect x="416.50" y="181.24" width="1.48" height="0.72" fill="#b0b0b0"/>
<rect x="419.00" y="181.24" width="5.18" height="0.72" fill="#b0b0b0"/>
<rect x="425.42" y="181.24" width="2.34" height="0.72" fill="#b0b0b0"/>
<rect x="376.03" y="182.90" width="4.44" height="0.72" fill="#c2b6a2"/>
<rect x="381.19" y="182.90" width="1.66" height="0.72" fill="#c2b6a2"/>
<rect x="387.57" y="182.90" width="4.59" height="0.72" fill="#c2b6a2"/>
<rect x="393.36" y="182.90" width="1.78" height="0.72" fill="#c2b6a2"/>
<rect x="395.85" y="182.90" width="2.84" height="0.72" fill="#c2b6a2"/>
<rect x="387.57" y="184.56" width="1.21" height="0.72" fill="#b4b4b4"/>
<rect x="389.40" y="184.56" width="4.86" height="0.72" fill="#b4b4b4"/>
<rect x="395.25" y="184.56" width="1.64" height="0.72" fill="#b4b4b4"/>
<rect x="387.57" y="186.22" width="5.13" height="0.72" fill="#c2b6a2"/>
<rect x="393.35" y="186.22" width="4.17" height="0.72" fill="#c2b6a2"/>
<rect x="387.57" y="187.88" width="1.60" height="0.72" fill="#b4b4b4"/>
<rect x="390.21" y="187.88" width="2.88" height="0.72" fill="#b4b4b4"/>
<rect x="394.06" y="187.88" width="4.86" height="0.72" fill="#b4b4b4"/>
<rect x="387.57" y="189.54" width="2.20" height="0.72" fill="#b2b2b2"/>
<rect x="390.56" y="189.54" width="5.32" height="0.72" fill="#b2b2b2"/>
<rect x="387.57" y="191.20" width="2.64" height="0.72" fill="#b2b2b2"/>
<rect x="391.06" y="191.20" width="3.34" height="0.72" fill="#b2b2b2"/>
<rect x="387.57" y="192.86" width="3.95" height="0.72" fill="#c2b6a2"/>
<rect x="392.77" y="192.86" width="2.60" height="0.72" fill="#c2b6a2"/>
<rect x="396.04" y="192.86" width="2.22" height="0.72" fill="#c2b6a2"/>
<rect x="398.99" y="192.86" width="4.12" height="0.72" fill="#c2b6a2"/>
<rect x="403.97" y="192.86" width="2.73" height="0.72" fill="#c2b6a2"/>
<rect x="407.86" y="192.86" width="2.20" height="0.72" fill="#c2b6a2"/>
<rect x="411.23" y="192.86" width="3.92" height="0.72" fill="#c2b6a2"/>
<rect x="416.03" y="192.86" width="4.74" height="0.72" fill="#c2b6a2"/>
<rect x="421.61" y="192.86" width="4.82" height="0.72" fill="#c2b6a2"/>
<rect x="387.57" y="194.52" width="5.22" height="0.72" fill="#bababa"/>
<rect x="393.92" y="194.52" width="5.41" height="0.72" fill="#bababa"/>
<rect x="400.13" y="194.52" width="3.88" height="0.72" fill="#bababa"/>
<rect x="405.08" y="194.52" width="2.78" height="0.72" fill="#bababa"/>
<rect x="408.73" y="194.52" width="1.95" height="0.72" fill="#bababa"/>
<rect x="411.96" y="194.52" width="2.72" height="0.72" fill="#bababa"/>
<rect x="387.57" y="196.18" width="1.65" height="0.72" fill="#b6b6b6"/>
<rect x="389.93" y="196.18" width="1.53" height="0.72" fill="#b6b6b6"/>
<rect x="392.68" y="196.18" width="4.35" height="0.72" fill="#b6b6b6"/>
<rect x="398.08" y="196.18" width="1.24" height="0.72" fill="#b6b6b6"/>
<rect x="400.14" y="196.18" width="1.24" height="0.72" fill="#b6b6b6"/>
<rect x="387.57" y="197.84" width="2.07" height="0.72" fill="#b4b4b4"/>
<rect x="390.58" y="197.84" width="5.37" height="0.72" fill="#b4b4b4"/>
<rect x="397.11" y="197.84" width="2.62" height="0.72" fill="#b4b4b4"/>
<rect x="400.43" y="197.84" width="2.75" height="0.72" fill="#b4b4b4"/>
<rect x="403.84" y="197.84" width="2.01" height="0.72" fill="#b4b4b4"/>
<rect x="406.94" y="197.84" width="4.33" height="0.72" fill="#b4b4b4"/>
<rect x="411.91" y="197.84" width="5.24" height="0.72" fill="#b4b4b4"/>
<rect x="418.20" y="197.84" width="3.83" height="0.72" fill="#b4b4b4"/>
<rect x="423.24" y="197.84" width="1.96" height="0.72" fill="#b4b4b4"/>
<rect x="387.57" y="199.50" width="4.84" height="0.72" fill="#c2b6a2"/>
<rect x="393.24" y="199.50" width="4.15" height="0.72" fill="#c2b6a2"/>
<rect x="387.57" y="201.16" width="3.31" height="0.72" fill="#b2b2b2"/>
<rect x="392.08" y="201.16" width="3.54" height="0.72" fill="#b2b2b2"/>
<rect x="396.66" y="201.16" width="1.59" height="0.72" fill="#b2b2b2"/>
<rect x="387.57" y="202.82" width="2.97" height="0.72" fill="#c2b6a2"/>
<rect x="391.50" y="202.82" width="1.40" height="0.72" fill="#c2b6a2"/>
<rect x="393.58" y="202.82" width="5.48" height="0.72" fill="#c2b6a2"/>
<rect x="399.75" y="202.82" width="5.23" height="0.72" fill="#c2b6a2"/>
<rect x="406.05" y="202.82" width="2.61" height="0.72" fill="#c2b6a2"/>
<rect x="387.57" y="204.48" width="4.08" height="0.72" fill="#b4b4b4"/>
<rect x="392.40" y="204.48" width="1.31" height="0.72" fill="#b4b4b4"/>
<rect x="394.60" y="204.48" width="5.43" height="0.72" fill="#b4b4b4"/>
<rect x="400.87" y="204.48" width="4.69" height="0.72" fill="#b4b4b4"/>
<rect x="387.57" y="206.14" width="1.80" height="0.72" fill="#c2b6a2"/>
<rect x="390.31" y="206.14" width="1.46" height="0.72" fill="#c2b6a2"/>
<rect x="392.51" y="206.14" width="5.15" height="0.72" fill="#c2b6a2"/>
<rect x="387.57" y="207.80" width="3.32" height="0.72" fill="#bababa"/>
<rect x="391.57" y="207.80" width="1.70" height="0.72" fill="#bababa"/>
<rect x="393.95" y="207.80" width="2.11" height="0.72" fill="#bababa"/>
<rect x="396.70" y="207.80" width="2.13" height="0.72" fill="#bababa"/>
<rect x="399.69" y="207.80" width="3.88" height="0.72" fill="#bababa"/>
<rect x="387.57" y="209.46" width="5.32" height="0.72" fill="#b6b6b6"/>
<rect x="393.60" y="209.46" width="2.07" height="0.72" fill="#b6b6b6"/>
<rect x="396.51" y="209.46" width="1.82" height="0.72" fill="#b6b6b6"/>
<rect x="399.02" y="209.46" width="2.55" height="0.72" fill="#b6b6b6"/>
<rect x="402.38" y="209.46" width="1.62" height="0.72" fill="#b6b6b6"/>
<rect x="387.57" y="211.12" width="2.19" height="0.72" fill="#b4b4b4"/>
<rect x="390.84" y="211.12" width="4.21" height="0.72" fill="#b4b4b4"/>
<rect x="396.11" y="211.12" width="1.33" height="0.72" fill="#b4b4b4"/>
<rect x="398.43" y="211.12" width="2.07" height="0.72" fill="#b4b4b4"/>
<rect x="401.23" y="211.12" width="3.69" height="0.72" fill="#b4b4b4"/>
<rect x="405.98" y="211.12" width="3.89" height="0.72" fill="#b4b4b4"/>
<rect x="410.99" y="211.12" width="4.22" height="0.72" fill="#b4b4b4"/>
<rect x="387.57" y="212.78" width="1.82" height="0.72" fill="#acacac"/>
<rect x="390.21" y="212.78" width="4.16" height="0.72" fill="#acacac"/>
<rect x="395.67" y="212.78" width="1.80" height="0.72" fill="#acacac"/>
<rect x="398.56" y="212.78" width="5.14" height="0.72" fill="#acacac"/>
<rect x="387.57" y="214.44" width="2.45" height="0.72" fill="#b2b2b2"/>
<rect x="390.77" y="214.44" width="4.74" height="0.72" fill="#b2b2b2"/>
<rect x="396.60" y="214.44" width="2.39" height="0.72" fill="#b2b2b2"/>
<rect x="400.23" y="214.44" width="3.65" height="0.72" fill="#b2b2b2"/>
<rect x="404.76" y="214.44" width="2.99" height="0.72" fill="#b2b2b2"/>
<rect x="408.85" y="214.44" width="3.16" height="0.72" fill="#b2b2b2"/>
<rect x="413.07" y="214.44" width="1.72" height="0.72" fill="#b2b2b2"/>
<rect x="415.89" y="214.44" width="2.37" height="0.72" fill="#b2b2b2"/>
<rect x="419.50" y="214.44" width="2.12" height="0.72" fill="#b2b2b2"/>
<rect x="422.45" y="214.44" width="3.51" height="0.72" fill="#b2b2b2"/>
<rect x="387.57" y="216.10" width="4.96" height="0.72" fill="#b0b0b0"/></g>
<text x="403.75" y="235" font-size="11" fill="#1e1e1e" stroke="#1e1e1e" stroke-width="0.22" font-weight="normal" text-anchor="middle" textLength="49.5" lengthAdjust="spacingAndGlyphs">Enhanced</text>
<text x="403.75" y="250.5" font-size="11" fill="#1e1e1e" stroke="#1e1e1e" stroke-width="0.22" font-weight="normal" text-anchor="middle" textLength="46.3" lengthAdjust="spacingAndGlyphs">GenBank</text>
<text x="403.75" y="265.5" font-size="11" fill="#1e1e1e" stroke="#1e1e1e" stroke-width="0.22" font-weight="normal" text-anchor="middle" textLength="17.6" lengthAdjust="spacingAndGlyphs">File</text>
<path d="M369,267.7 A36.5,52 0 0 0 405.5,319.7 L405.5,317.8 A22.6,50.1 0 0 1 382.9,267.7 Z" fill="#31599f"/>
<path d="M405.5,317.8 A22.6,50.1 0 0 0 427.3,281.1 L440.8,281.1 A36.5,52 0 0 1 405.5,319.7 Z" fill="#4472c4"/>
<polygon points="411,281.1 434.4,267.3 455.7,281.1" fill="#4472c4"/>
<text x="405" y="337.6" font-size="11" fill="#1e1e1e" stroke="#1e1e1e" stroke-width="0.22" font-weight="normal" text-anchor="middle" textLength="66" lengthAdjust="spacingAndGlyphs">Validation by</text>
<text x="404.9" y="352.7" font-size="11" fill="#1e1e1e" stroke="#1e1e1e" stroke-width="0.22" font-weight="normal" text-anchor="middle" textLength="78.3" lengthAdjust="spacingAndGlyphs">Second Curator</text>
<polygon points="224.4,224.8 242.3,242.7 233.4,242.7 233.4,261.8 215.4,261.8 215.4,242.7 206.6,242.7" fill="#4472c4"/>
<rect x="186.2" y="268" width="78.2" height="103.5" fill="#ffffff" stroke="#5776b4" stroke-width="1.35"/>
<rect x="220.2" y="276.9" width="17.5" height="1.1" fill="#8a8a8a"/>
<rect x="220.2" y="278.3" width="8" height="0.4" fill="#d44"/>
<rect x="196.50" y="281.75" width="4.22" height="0.8" fill="#acacac"/>
<rect x="201.72" y="281.75" width="4.63" height="0.8" fill="#acacac"/>
<rect x="201.72" y="282.65" width="4.63" height="0.35" fill="#e04848"/>
<rect x="207.06" y="281.75" width="5.69" height="0.8" fill="#acacac"/>
<rect x="213.56" y="281.75" width="6.48" height="0.8" fill="#acacac"/>
<rect x="221.16" y="281.75" width="3.88" height="0.8" fill="#acacac"/>
<rect x="225.82" y="281.75" width="4.67" height="0.8" fill="#acacac"/>
<rect x="231.45" y="281.75" width="5.21" height="0.8" fill="#acacac"/>
<rect x="237.39" y="281.75" width="5.29" height="0.8" fill="#acacac"/>
<rect x="243.53" y="281.75" width="1.66" height="0.8" fill="#acacac"/>
<rect x="246.12" y="281.75" width="5.09" height="0.8" fill="#acacac"/>
<rect x="252.27" y="281.75" width="6.11" height="0.8" fill="#acacac"/>
<rect x="196.50" y="284.55" width="6.18" height="0.8" fill="#acacac"/>
<rect x="203.43" y="284.55" width="2.18" height="0.8" fill="#acacac"/>
<rect x="206.79" y="284.55" width="3.68" height="0.8" fill="#acacac"/>
<rect x="211.32" y="284.55" width="4.04" height="0.8" fill="#acacac"/>
<rect x="216.23" y="284.55" width="4.43" height="0.8" fill="#acacac"/>
<rect x="221.81" y="284.55" width="4.91" height="0.8" fill="#acacac"/>
<rect x="227.85" y="284.55" width="6.45" height="0.8" fill="#acacac"/>
<rect x="235.08" y="284.55" width="5.80" height="0.8" fill="#acacac"/>
<rect x="242.04" y="284.55" width="4.35" height="0.8" fill="#acacac"/>
<rect x="247.19" y="284.55" width="5.66" height="0.8" fill="#acacac"/>
<rect x="253.69" y="284.55" width="1.82" height="0.8" fill="#acacac"/>
<rect x="256.70" y="284.55" width="1.94" height="0.8" fill="#acacac"/>
<rect x="196.50" y="287.25" width="2.97" height="0.8" fill="#acacac"/>
<rect x="200.61" y="287.25" width="1.72" height="0.8" fill="#acacac"/>
<rect x="203.05" y="287.25" width="5.09" height="0.8" fill="#acacac"/>
<rect x="209.28" y="287.25" width="6.40" height="0.8" fill="#acacac"/>
<rect x="216.88" y="287.25" width="3.05" height="0.8" fill="#acacac"/>
<rect x="220.93" y="287.25" width="1.66" height="0.8" fill="#acacac"/>
<rect x="223.49" y="287.25" width="4.55" height="0.8" fill="#acacac"/>
<rect x="228.77" y="287.25" width="5.84" height="0.8" fill="#acacac"/>
<rect x="235.79" y="287.25" width="5.98" height="0.8" fill="#acacac"/>
<rect x="242.70" y="287.25" width="4.10" height="0.8" fill="#acacac"/>
<rect x="247.80" y="287.25" width="4.30" height="0.8" fill="#acacac"/>
<rect x="253.26" y="287.25" width="4.04" height="0.8" fill="#acacac"/>
<rect x="196.50" y="290.05" width="3.01" height="0.8" fill="#acacac"/>
<rect x="200.47" y="290.05" width="4.24" height="0.8" fill="#acacac"/>
<rect x="200.47" y="290.95" width="4.24" height="0.35" fill="#e04848"/>
<rect x="205.62" y="290.05" width="4.40" height="0.8" fill="#acacac"/>
<rect x="205.62" y="290.95" width="4.40" height="0.35" fill="#e04848"/>
<rect x="211.02" y="290.05" width="4.66" height="0.8" fill="#acacac"/>
<rect x="211.02" y="290.95" width="4.66" height="0.35" fill="#e04848"/>
<rect x="216.70" y="290.05" width="3.83" height="0.8" fill="#acacac"/>
<rect x="221.41" y="290.05" width="5.03" height="0.8" fill="#acacac"/>
<rect x="227.15" y="290.05" width="1.80" height="0.8" fill="#acacac"/>
<rect x="230.14" y="290.05" width="2.76" height="0.8" fill="#acacac"/>
<rect x="233.89" y="290.05" width="3.10" height="0.8" fill="#acacac"/>
<rect x="237.84" y="290.05" width="3.35" height="0.8" fill="#acacac"/>
<rect x="242.04" y="290.05" width="3.39" height="0.8" fill="#acacac"/>
<rect x="246.14" y="290.05" width="4.35" height="0.8" fill="#acacac"/>
<rect x="251.34" y="290.05" width="2.61" height="0.8" fill="#acacac"/>
<rect x="254.77" y="290.05" width="2.44" height="0.8" fill="#acacac"/>
<rect x="196.50" y="292.75" width="3.11" height="0.8" fill="#acacac"/>
<rect x="200.73" y="292.75" width="3.69" height="0.8" fill="#acacac"/>
<rect x="205.20" y="292.75" width="3.18" height="0.8" fill="#acacac"/>
<rect x="209.53" y="292.75" width="3.76" height="0.8" fill="#acacac"/>
<rect x="214.05" y="292.75" width="4.15" height="0.8" fill="#acacac"/>
<rect x="219.30" y="292.75" width="5.69" height="0.8" fill="#acacac"/>
<rect x="225.83" y="292.75" width="5.54" height="0.8" fill="#acacac"/>
<rect x="232.47" y="292.75" width="3.23" height="0.8" fill="#acacac"/>
<rect x="236.54" y="292.75" width="5.47" height="0.8" fill="#acacac"/>
<rect x="242.88" y="292.75" width="3.58" height="0.8" fill="#acacac"/>
<rect x="247.37" y="292.75" width="6.10" height="0.8" fill="#acacac"/>
<rect x="254.18" y="292.75" width="4.18" height="0.8" fill="#acacac"/>
<rect x="196.50" y="295.55" width="6.25" height="0.8" fill="#acacac"/>
<rect x="203.56" y="295.55" width="5.23" height="0.8" fill="#acacac"/>
<rect x="209.82" y="295.55" width="4.10" height="0.8" fill="#acacac"/>
<rect x="214.79" y="295.55" width="2.64" height="0.8" fill="#acacac"/>
<rect x="214.79" y="296.45" width="2.64" height="0.35" fill="#e04848"/>
<rect x="218.42" y="295.55" width="2.94" height="0.8" fill="#acacac"/>
<rect x="222.08" y="295.55" width="6.02" height="0.8" fill="#acacac"/>
<rect x="229.26" y="295.55" width="5.98" height="0.8" fill="#acacac"/>
<rect x="236.23" y="295.55" width="1.57" height="0.8" fill="#acacac"/>
<rect x="238.58" y="295.55" width="3.00" height="0.8" fill="#acacac"/>
<rect x="242.54" y="295.55" width="3.57" height="0.8" fill="#acacac"/>
<rect x="247.12" y="295.55" width="3.21" height="0.8" fill="#acacac"/>
<rect x="251.45" y="295.55" width="3.89" height="0.8" fill="#acacac"/>
<rect x="256.22" y="295.55" width="2.49" height="0.8" fill="#acacac"/>
<rect x="196.50" y="298.35" width="5.46" height="0.8" fill="#acacac"/>
<rect x="203.06" y="298.35" width="5.62" height="0.8" fill="#acacac"/>
<rect x="203.06" y="299.25" width="5.62" height="0.35" fill="#e04848"/>
<rect x="209.69" y="298.35" width="5.81" height="0.8" fill="#acacac"/>
<rect x="209.69" y="299.25" width="5.81" height="0.35" fill="#e04848"/>
<rect x="216.34" y="298.35" width="2.84" height="0.8" fill="#acacac"/>
<rect x="220.10" y="298.35" width="3.86" height="0.8" fill="#acacac"/>
<rect x="224.66" y="298.35" width="1.77" height="0.8" fill="#acacac"/>
<rect x="227.20" y="298.35" width="1.84" height="0.8" fill="#acacac"/>
<rect x="230.17" y="298.35" width="1.93" height="0.8" fill="#acacac"/>
<rect x="232.96" y="298.35" width="3.07" height="0.8" fill="#acacac"/>
<rect x="237.05" y="298.35" width="4.43" height="0.8" fill="#acacac"/>
<rect x="242.28" y="298.35" width="3.14" height="0.8" fill="#acacac"/>
<rect x="246.40" y="298.35" width="5.08" height="0.8" fill="#acacac"/>
<rect x="252.22" y="298.35" width="2.39" height="0.8" fill="#acacac"/>
<rect x="255.62" y="298.35" width="2.98" height="0.8" fill="#acacac"/>
<rect x="196.50" y="301.05" width="4.61" height="0.8" fill="#acacac"/>
<rect x="202.00" y="301.05" width="3.98" height="0.8" fill="#acacac"/>
<rect x="206.89" y="301.05" width="4.97" height="0.8" fill="#acacac"/>
<rect x="212.69" y="301.05" width="4.18" height="0.8" fill="#acacac"/>
<rect x="217.60" y="301.05" width="3.62" height="0.8" fill="#acacac"/>
<rect x="222.36" y="301.05" width="6.18" height="0.8" fill="#acacac"/>
<rect x="229.70" y="301.05" width="1.30" height="0.8" fill="#acacac"/>
<rect x="196.50" y="304.75" width="2.12" height="0.8" fill="#acacac"/>
<rect x="199.65" y="304.75" width="5.94" height="0.8" fill="#acacac"/>
<rect x="206.62" y="304.75" width="5.17" height="0.8" fill="#acacac"/>
<rect x="212.54" y="304.75" width="4.44" height="0.8" fill="#acacac"/>
<rect x="212.54" y="305.65" width="4.44" height="0.35" fill="#e04848"/>
<rect x="217.75" y="304.75" width="5.37" height="0.8" fill="#acacac"/>
<rect x="217.75" y="305.65" width="5.37" height="0.35" fill="#e04848"/>
<rect x="223.87" y="304.75" width="2.00" height="0.8" fill="#acacac"/>
<rect x="226.65" y="304.75" width="1.62" height="0.8" fill="#acacac"/>
<rect x="229.03" y="304.75" width="5.72" height="0.8" fill="#acacac"/>
<rect x="235.87" y="304.75" width="6.26" height="0.8" fill="#acacac"/>
<rect x="243.23" y="304.75" width="1.68" height="0.8" fill="#acacac"/>
<rect x="245.87" y="304.75" width="5.08" height="0.8" fill="#acacac"/>
<rect x="252.02" y="304.75" width="6.17" height="0.8" fill="#acacac"/>
<rect x="252.02" y="305.65" width="6.17" height="0.35" fill="#e04848"/>
<rect x="259.05" y="304.75" width="1.95" height="0.8" fill="#acacac"/>
<rect x="196.50" y="307.55" width="2.40" height="0.8" fill="#acacac"/>
<rect x="199.91" y="307.55" width="5.27" height="0.8" fill="#acacac"/>
<rect x="206.06" y="307.55" width="3.48" height="0.8" fill="#acacac"/>
<rect x="210.45" y="307.55" width="1.55" height="0.8" fill="#acacac"/>
<rect x="196.5" y="311.5" width="12" height="1" fill="#777"/>
<rect x="203" y="312.7" width="5" height="0.4" fill="#d44"/>
<rect x="196.5" y="315.5" width="4" height="1" fill="#777"/>
<rect x="196.5" y="332.9" width="5" height="1" fill="#777"/>
<rect x="196.7" y="319.4" width="2.2" height="2" fill="#c8d878" opacity="0.85"/>
<rect x="200" y="320.2" width="9" height="0.7" fill="#c4c4c4"/>
<rect x="196.7" y="323.8" width="2.2" height="2" fill="#8c8c8c" opacity="0.85"/>
<rect x="200" y="324.6" width="3" height="0.7" fill="#c4c4c4"/>
<rect x="196.7" y="328.4" width="2.2" height="2" fill="#3a8a3a" opacity="0.85"/>
<rect x="200" y="329.2" width="5" height="0.7" fill="#c4c4c4"/>
<rect x="196.7" y="336.5" width="2.2" height="2" fill="#b080d8" opacity="0.85"/>
<rect x="200" y="337.3" width="14" height="0.7" fill="#c4c4c4"/>
<rect x="196.7" y="340.8" width="2.2" height="2" fill="#4a40c8" opacity="0.85"/>
<rect x="200" y="341.6" width="10" height="0.7" fill="#c4c4c4"/>
<rect x="196.7" y="345.3" width="2.2" height="2" fill="#d03030" opacity="0.85"/>
<rect x="200" y="346.1" width="12" height="0.7" fill="#c4c4c4"/>
<rect x="196.7" y="349.6" width="2.2" height="2" fill="#d0b030" opacity="0.85"/>
<rect x="200" y="350.40000000000003" width="13" height="0.7" fill="#c4c4c4"/>
<rect x="196.7" y="354" width="2.2" height="2" fill="#c8c840" opacity="0.85"/>
<rect x="200" y="354.8" width="12" height="0.7" fill="#c4c4c4"/>
<rect x="196.7" y="358.3" width="2.2" height="2" fill="#e06030" opacity="0.85"/>
<rect x="200" y="359.1" width="10" height="0.7" fill="#c4c4c4"/>
<rect x="196.7" y="362.7" width="2.2" height="2" fill="#e0a880" opacity="0.85"/>
<rect x="200" y="363.5" width="4" height="0.7" fill="#c4c4c4"/>
<text x="225.05" y="386.6" font-size="11" fill="#1e1e1e" stroke="#1e1e1e" stroke-width="0.22" font-weight="normal" text-anchor="middle" textLength="44" lengthAdjust="spacingAndGlyphs">Curation</text>
<text x="225.05" y="402" font-size="11" fill="#1e1e1e" stroke="#1e1e1e" stroke-width="0.22" font-weight="normal" text-anchor="middle" textLength="54.2" lengthAdjust="spacingAndGlyphs">Guidelines</text>
<polygon points="444.5,93 634.4,93 634.4,84.3 652.1,101.9 634.4,120 634.4,111 444.5,111" fill="#4472c4"/>
<polygon points="444.9,166.4 475.2,166.4 475.2,157.6 493,175.3 475.2,193 475.2,184.1 444.9,184.1" fill="#4472c4"/>
<path d="M504.1,141.2 L504.1,205.7 A44.1,16.3 0 0 0 592.3,205.7 L592.3,141.2 Z" fill="#b4c7e7" stroke="#4a6aa8" stroke-width="1"/>
<ellipse cx="548.2" cy="141.2" rx="44.1" ry="16.3" fill="#b4c7e7" stroke="#4a6aa8" stroke-width="1"/>
<text x="549.05" y="184.4" font-size="11" fill="#1e1e1e" stroke="#1e1e1e" stroke-width="0.22" font-weight="normal" text-anchor="middle" textLength="48.4" lengthAdjust="spacingAndGlyphs">TnCentral</text>
<text x="548.45" y="199.4" font-size="11" fill="#1e1e1e" stroke="#1e1e1e" stroke-width="0.22" font-weight="normal" text-anchor="middle" textLength="47.2" lengthAdjust="spacingAndGlyphs">Database</text>
<polygon points="608,165.3 638.1,165.3 638.1,156.5 656.1,174.1 638.1,192 638.1,183.2 608,183.2" fill="#4472c4"/>
<defs>
<radialGradient id="wg" cx="0.5" cy="0.52" r="0.72">
<stop offset="0" stop-color="#f3f4fa"/>
<stop offset="0.3" stop-color="#e2e6f5"/>
<stop offset="0.56" stop-color="#c8cfec"/>
<stop offset="0.8" stop-color="#cfd5ef"/>
<stop offset="1" stop-color="#f7f8fd"/>
</radialGradient></defs>
<rect x="663.8" y="75.5" width="132.5" height="124.30000000000001" fill="url(#wg)"/>
<path d="M728.20,84.20 A53.6,53.6 0 0 1 781.40,131.27" fill="none" stroke="#e6ee9a" stroke-width="1.45"/>
<path d="M731.62,88.92 A49,49 0 0 1 776.60,130.13" fill="none" stroke="#e6ee9a" stroke-width="1.45"/>
<path d="M756.83,174.44 A46.5,46.5 0 0 1 736.27,183.59" fill="none" stroke="#edf1a8" stroke-width="1.8"/>
<path d="M695.48,97.39 A52,52 0 0 1 696.82,96.33" fill="none" stroke="#c85070" stroke-width="1.5" opacity="0.76"/>
<path d="M700.66,93.69 A52,52 0 0 1 701.86,92.96" fill="none" stroke="#c85070" stroke-width="1.5" opacity="0.82"/>
<path d="M705.86,90.84 A52,52 0 0 1 707.03,90.30" fill="none" stroke="#b8304a" stroke-width="1.5" opacity="0.79"/>
<path d="M711.45,88.57 A52,52 0 0 1 713.28,87.99" fill="none" stroke="#c85070" stroke-width="1.5" opacity="0.94"/>
<path d="M717.36,86.94 A52,52 0 0 1 719.23,86.58" fill="none" stroke="#b8304a" stroke-width="1.5" opacity="0.89"/>
<path d="M722.06,86.16 A52,52 0 0 1 723.28,86.03" fill="none" stroke="#9a2a55" stroke-width="1.5" opacity="0.61"/>
<path d="M685.60,167.63 A52,52 0 0 1 682.44,162.50" fill="none" stroke="#6fb04c" stroke-width="1.8" opacity="0.76"/>
<path d="M681.51,160.69 A52,52 0 0 1 680.02,157.36" fill="none" stroke="#6fb04c" stroke-width="1.8" opacity="0.77"/>
<path d="M678.77,153.95 A52,52 0 0 1 676.72,145.15" fill="none" stroke="#6fb04c" stroke-width="1.8" opacity="0.76"/>
<path d="M676.38,142.09 A52,52 0 0 1 676.24,135.67" fill="none" stroke="#6fb04c" stroke-width="1.8" opacity="0.89"/>
<path d="M676.39,133.41 A52,52 0 0 1 677.73,125.28" fill="none" stroke="#78bc55" stroke-width="1.8" opacity="0.91"/>
<path d="M678.07,123.97 A52,52 0 0 1 679.55,119.43" fill="none" stroke="#86c464" stroke-width="1.8" opacity="0.79"/>
<path d="M680.68,116.68 A52,52 0 0 1 683.39,111.43" fill="none" stroke="#78bc55" stroke-width="1.8" opacity="0.89"/>
<path d="M684.42,109.74 A52,52 0 0 1 686.77,106.38" fill="none" stroke="#86c464" stroke-width="1.8" opacity="0.89"/>
<path d="M687.77,105.10 A52,52 0 0 1 691.08,101.39" fill="none" stroke="#78bc55" stroke-width="1.8" opacity="0.82"/>
<path d="M692.85,99.67 A52,52 0 0 1 694.08,98.56" fill="none" stroke="#6fb04c" stroke-width="1.8" opacity="0.75"/>
<path d="M708.72,186.01 A52,52 0 0 1 706.62,185.11" fill="none" stroke="#78bc55" stroke-width="1.6" opacity="0.74"/>
<path d="M702.60,183.06 A52,52 0 0 1 701.03,182.14" fill="none" stroke="#6fb04c" stroke-width="1.6" opacity="0.95"/>
<path d="M699.46,181.13 A52,52 0 0 1 697.41,179.71" fill="none" stroke="#78bc55" stroke-width="1.6" opacity="0.61"/>
<path d="M695.66,178.36 A52,52 0 0 1 693.06,176.13" fill="none" stroke="#6fb04c" stroke-width="1.6" opacity="0.89"/>
<path d="M691.00,174.14 A52,52 0 0 1 689.58,172.62" fill="none" stroke="#86c464" stroke-width="1.6" opacity="0.61"/>
<path d="M687.75,170.47 A52,52 0 0 1 685.60,167.63" fill="none" stroke="#b04070" stroke-width="1.6" opacity="0.89"/>
<path d="M719.17,189.01 A52,52 0 0 1 714.80,188.04" fill="none" stroke="#6fb04c" stroke-width="1.8" opacity="0.93"/>
<path d="M710.94,186.85 A52,52 0 0 1 707.36,185.44" fill="none" stroke="#86c464" stroke-width="1.8" opacity="0.87"/>
<path d="M704.76,184.22 A52,52 0 0 1 700.48,181.80" fill="none" stroke="#78bc55" stroke-width="1.8" opacity="0.73"/>
<path d="M698.88,180.74 A52,52 0 0 1 693.31,176.36" fill="none" stroke="#a83060" stroke-width="1.8" opacity="0.76"/>
<path d="M690.41,173.52 A52,52 0 0 1 686.90,169.39" fill="none" stroke="#86c464" stroke-width="1.8" opacity="0.93"/>
<path d="M684.33,165.72 A52,52 0 0 1 683.17,163.80" fill="none" stroke="#78bc55" stroke-width="1.8" opacity="0.77"/>
<path d="M737.23,189.01 A52,52 0 0 1 735.52,189.28" fill="none" stroke="#a82c50" stroke-width="1.6" opacity="0.74"/>
<path d="M733.27,189.55 A52,52 0 0 1 731.83,189.67" fill="none" stroke="#9a2a55" stroke-width="1.6" opacity="0.80"/>
<path d="M729.78,189.78 A52,52 0 0 1 727.76,189.80" fill="none" stroke="#a82c50" stroke-width="1.6" opacity="0.83"/>
<path d="M724.69,189.68 A52,52 0 0 1 722.28,189.46" fill="none" stroke="#b8304a" stroke-width="1.6" opacity="0.92"/>
<path d="M719.63,189.09 A52,52 0 0 1 719.17,189.01" fill="none" stroke="#b8304a" stroke-width="1.6" opacity="0.61"/>
<path d="M779.06,148.61 A52,52 0 0 1 778.38,151.44" fill="none" stroke="#a82c50" stroke-width="1.6" opacity="0.65"/>
<path d="M777.67,153.83 A52,52 0 0 1 776.72,156.51" fill="none" stroke="#b8304a" stroke-width="1.6" opacity="0.92"/>
<path d="M774.87,160.74 A52,52 0 0 1 773.26,163.75" fill="none" stroke="#a82c50" stroke-width="1.6" opacity="0.72"/>
<path d="M770.88,167.50 A52,52 0 0 1 768.57,170.58" fill="none" stroke="#c85070" stroke-width="1.6" opacity="0.93"/>
<path d="M767.03,172.38 A52,52 0 0 1 765.01,174.53" fill="none" stroke="#d8a0c0" stroke-width="1.6" opacity="0.73"/>
<path d="M761.99,177.33 A52,52 0 0 1 759.50,179.33" fill="none" stroke="#d8a0c0" stroke-width="1.6" opacity="0.64"/>
<path d="M756.98,181.11 A52,52 0 0 1 754.64,182.58" fill="none" stroke="#d8a0c0" stroke-width="1.6" opacity="0.84"/>
<path d="M751.37,184.35 A52,52 0 0 1 748.77,185.56" fill="none" stroke="#9a2a55" stroke-width="1.6" opacity="0.86"/>
<path d="M746.58,186.44 A52,52 0 0 1 743.57,187.48" fill="none" stroke="#c03a5a" stroke-width="1.6" opacity="0.94"/>
<path d="M741.04,188.19 A52,52 0 0 1 737.54,188.95" fill="none" stroke="#c85070" stroke-width="1.6" opacity="0.69"/>
<path d="M721.97,93.44 A44.8,44.8 0 0 1 723.71,93.23" fill="none" stroke="#c85070" stroke-width="1.4" opacity="0.76"/>
<path d="M727.04,93.02 A44.8,44.8 0 0 1 728.88,93.01" fill="none" stroke="#c8a0d8" stroke-width="1.4" opacity="0.87"/>
<path d="M731.21,93.10 A44.8,44.8 0 0 1 733.67,93.34" fill="none" stroke="#e0a040" stroke-width="1.4" opacity="0.84"/>
<path d="M736.96,93.87 A44.8,44.8 0 0 1 738.49,94.20" fill="none" stroke="#c85070" stroke-width="1.4" opacity="0.77"/>
<path d="M740.72,94.79 A44.8,44.8 0 0 1 742.10,95.21" fill="none" stroke="#b8304a" stroke-width="1.4" opacity="0.81"/>
<path d="M745.65,96.54 A44.8,44.8 0 0 1 747.21,97.23" fill="none" stroke="#c8a0d8" stroke-width="1.4" opacity="0.74"/>
<path d="M750.53,98.96 A44.8,44.8 0 0 1 752.91,100.43" fill="none" stroke="#c8a0d8" stroke-width="1.4" opacity="0.80"/>
<path d="M755.54,102.31 A44.8,44.8 0 0 1 757.72,104.10" fill="none" stroke="#9a60c0" stroke-width="1.4" opacity="0.62"/>
<path d="M758.93,105.20 A44.8,44.8 0 0 1 760.96,107.24" fill="none" stroke="#9a2a55" stroke-width="1.4" opacity="0.77"/>
<path d="M762.48,108.96 A44.8,44.8 0 0 1 764.17,111.09" fill="none" stroke="#a82c50" stroke-width="1.4" opacity="0.72"/>
<path d="M765.33,112.73 A44.8,44.8 0 0 1 766.76,114.99" fill="none" stroke="#a82c50" stroke-width="1.4" opacity="0.84"/>
<path d="M768.58,118.41 A44.8,44.8 0 0 1 769.17,119.68" fill="none" stroke="#9a60c0" stroke-width="1.4" opacity="0.89"/>
<path d="M770.35,122.62 A44.8,44.8 0 0 1 770.81,123.96" fill="none" stroke="#a82c50" stroke-width="1.4" opacity="0.81"/>
<path d="M783.99,132.92 A56,56 0 0 1 784.10,134.42" fill="none" stroke="#c03a5a" stroke-width="1.3" opacity="0.58"/>
<path d="M784.14,140.31 A56,56 0 0 1 784.04,141.97" fill="none" stroke="#c03a5a" stroke-width="1.3" opacity="0.62"/>
<path d="M783.05,149.10 A56,56 0 0 1 782.98,149.44" fill="none" stroke="#c03a5a" stroke-width="1.3" opacity="0.54"/>
<text x="727.8" y="133.4" font-size="13" fill="#3150a2" stroke="#3150a2" stroke-width="0.3" text-anchor="middle" textLength="53" lengthAdjust="spacingAndGlyphs" font-family="Liberation Sans, sans-serif">TnCentral</text>
<rect x="701.3" y="134.2" width="53" height="0.5" fill="#d06070"/>
<text x="728.7" y="144" font-size="5.4" font-weight="bold" fill="#3d4c8a" text-anchor="middle" textLength="59" lengthAdjust="spacingAndGlyphs" font-family="Liberation Sans, sans-serif">An annotated prokaryotic</text>
<text x="728.8" y="150.8" font-size="5.4" font-weight="bold" fill="#3d4c8a" text-anchor="middle" textLength="48" lengthAdjust="spacingAndGlyphs" font-family="Liberation Sans, sans-serif">transposon database</text>
<text x="730.7" y="215" font-size="11" fill="#1e1e1e" stroke="#1e1e1e" stroke-width="0.22" font-weight="normal" text-anchor="middle" textLength="93.3" lengthAdjust="spacingAndGlyphs">TnCentral Website</text>
</svg>
</body></html>
